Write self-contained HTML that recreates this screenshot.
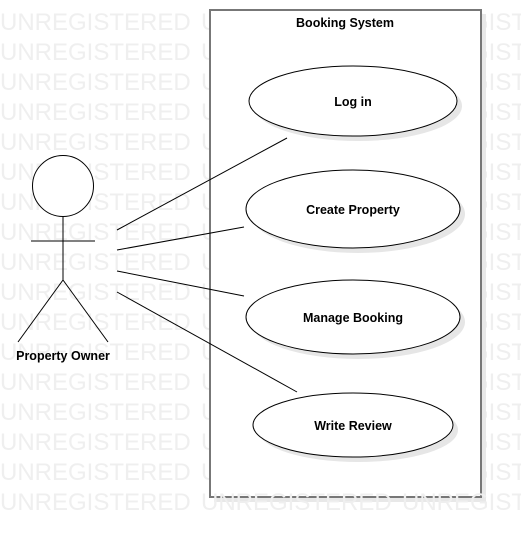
<!DOCTYPE html>
<html><head><style>
html,body{margin:0;padding:0;background:#fff;width:521px;height:537px;overflow:hidden}
svg{display:block}
</style></head><body>
<svg width="521" height="537" xmlns="http://www.w3.org/2000/svg">
<defs>
<g id="wm"><text x="0" y="0">UNREGISTERED</text><text x="201" y="0">UNREGISTERED</text><text x="402" y="0">UNREGISTERED</text></g>
</defs>
<g font-family="Liberation Sans, sans-serif" font-size="24" fill="#efefef">
<use href="#wm" y="30"/><use href="#wm" y="60"/><use href="#wm" y="90"/><use href="#wm" y="120"/>
<use href="#wm" y="150"/><use href="#wm" y="180"/><use href="#wm" y="210"/><use href="#wm" y="240"/>
<use href="#wm" y="270"/><use href="#wm" y="300"/><use href="#wm" y="330"/><use href="#wm" y="360"/>
<use href="#wm" y="390"/><use href="#wm" y="420"/><use href="#wm" y="450"/><use href="#wm" y="480"/>
</g>
<rect x="214" y="14" width="272" height="488" fill="#e8e8e8"/>
<rect x="210" y="10" width="271" height="487" fill="#fff" stroke="#777" stroke-width="2"/>
<g font-family="Liberation Sans, sans-serif" font-size="24" fill="#efefef"><use href="#wm" y="510"/></g>
<text x="345" y="27" font-family="Liberation Sans, sans-serif" font-size="12.5" font-weight="bold" text-anchor="middle" fill="#000">Booking System</text>
<g fill="#e6e6e6">
<ellipse cx="358" cy="106" rx="104" ry="35"/>
<ellipse cx="358" cy="214" rx="107" ry="39"/>
<ellipse cx="358" cy="322" rx="107" ry="37"/>
<ellipse cx="358" cy="430" rx="100" ry="32"/>
</g>
<g fill="#fff" stroke="#000" stroke-width="1">
<ellipse cx="353" cy="101" rx="104" ry="35"/>
<ellipse cx="353" cy="209" rx="107" ry="39"/>
<ellipse cx="353" cy="317" rx="107" ry="37"/>
<ellipse cx="353" cy="425" rx="100" ry="32"/>
</g>
<g font-family="Liberation Sans, sans-serif" font-size="12.5" font-weight="bold" text-anchor="middle" fill="#000">
<text x="353" y="106">Log in</text>
<text x="353" y="214">Create Property</text>
<text x="353" y="322">Manage Booking</text>
<text x="353" y="430">Write Review</text>
</g>
<g stroke="#000" stroke-width="1" fill="none">
<line x1="117" y1="230" x2="287" y2="138"/>
<line x1="117" y1="250" x2="244" y2="227"/>
<line x1="117" y1="271" x2="244" y2="296"/>
<line x1="117" y1="292" x2="297" y2="392"/>
<circle cx="63" cy="186" r="30.5" fill="#fff"/>
<line x1="63" y1="217" x2="63" y2="280"/>
<line x1="31" y1="241" x2="95" y2="241"/>
<line x1="63" y1="280" x2="18" y2="342"/>
<line x1="63" y1="280" x2="108" y2="342"/>
</g>
<text x="63" y="360" font-family="Liberation Sans, sans-serif" font-size="12.5" font-weight="bold" text-anchor="middle" fill="#000">Property Owner</text>
</svg>
</body></html>
